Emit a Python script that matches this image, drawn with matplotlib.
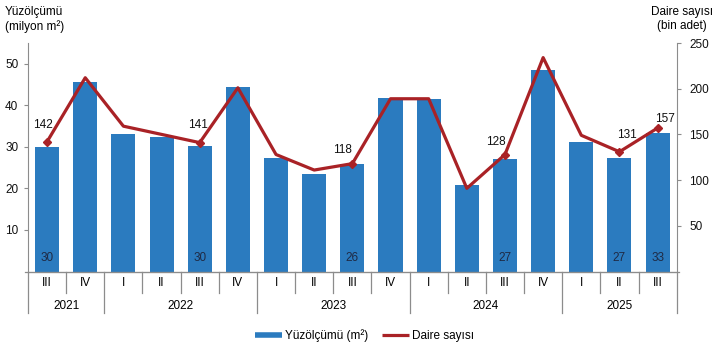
import matplotlib
matplotlib.use("Agg")
import matplotlib.pyplot as plt
import matplotlib.transforms as mtransforms
from matplotlib.lines import Line2D

plt.rcParams['font.family'] = ['Liberation Sans', 'DejaVu Sans']
plt.rcParams['font.size'] = 8.5

# veri
ceyrek = ['III', 'IV', 'I', 'II', 'III', 'IV', 'I', 'II', 'III', 'IV',
          'I', 'II', 'III', 'IV', 'I', 'II', 'III']
yillar = ['2021', '2022', '2023', '2024', '2025']
yil_uzunluk = [2, 4, 4, 4, 3]
yuzolcumu = [30.0, 45.5, 33.1, 32.3, 30.2, 44.5, 27.3, 23.5, 25.9, 41.7,
             41.5, 20.8, 27.1, 48.6, 31.2, 27.3, 33.3]
daire = [142, 212, 159, 150, 141, 201, 128, 111, 118, 189,
         189, 91, 128, 234, 149, 131, 157]
bar_etiket_idx = [0, 4, 8, 12, 15, 16]
cizgi_etiket_idx = [0, 4, 8, 12, 15, 16]
cizgi_ofset = {0: (-4, 17), 4: (-2, 18), 8: (-10, 14), 12: (-9, 13),
               15: (7, 17), 16: (7, 9)}

mavi = '#2B7BBF'
kirmizi = '#A92226'
gri = '#8C8C8C'

fig = plt.figure(figsize=(7.22, 3.52), dpi=100)
ax = fig.add_axes([28 / 722, 80.5 / 352, 648.7 / 722, 228.5 / 352])
ax2 = ax.twinx()

x = list(range(len(ceyrek)))
ax.bar(x, yuzolcumu, width=0.63, color=mavi, zorder=2)
ax.set_xlim(-0.5, 16.5)
ax.set_ylim(0, 55)
ax.set_yticks([10, 20, 30, 40, 50])
ax.set_xticks([])

for i in bar_etiket_idx:
    ax.text(i, 3.3, f"{round(yuzolcumu[i])}", ha='center', va='center',
            color='#1F2A44', fontsize=8.5, zorder=3)

ax2.plot(x, daire, color=kirmizi, lw=2.3, zorder=4)
ax2.plot([x[i] for i in cizgi_etiket_idx], [daire[i] for i in cizgi_etiket_idx],
         ls='none', marker='D', ms=4, color=kirmizi, zorder=5)
ax2.set_ylim(0, 250)
ax2.set_yticks([50, 100, 150, 200, 250])
for i in cizgi_etiket_idx:
    ax2.annotate(str(daire[i]), (x[i], daire[i]), xytext=cizgi_ofset[i],
                 textcoords='offset pixels', ha='center', va='center',
                 fontsize=8.5, color='#111111')

for a in (ax, ax2):
    a.spines['top'].set_visible(False)
    for s in ('left', 'right', 'bottom'):
        a.spines[s].set_color(gri)
    a.tick_params(axis='y', colors='#111111', length=3, color=gri, labelsize=8.5)
ax.spines['right'].set_visible(False)
ax2.spines['left'].set_visible(False)
ax2.spines['bottom'].set_visible(False)
ax.tick_params(axis='y', pad=4)
ax2.tick_params(axis='y', pad=6)

# iki seviyeli x ekseni
tr = mtransforms.blended_transform_factory(ax.transData, ax.transAxes)
ax.plot([-0.58, 16.55], [0, 0], color=gri, lw=0.9, transform=tr, clip_on=False)
for i, q in enumerate(ceyrek):
    ax.text(i, -0.052, q, ha='center', va='center', transform=tr, fontsize=8.5)
sinir = -0.5
for y, n in zip(yillar, yil_uzunluk):
    ax.plot([sinir, sinir], [0, -0.18], color=gri, lw=0.9, transform=tr, clip_on=False)
    for k in range(1, n):
        ax.plot([sinir + k, sinir + k], [0, -0.093], color=gri, lw=0.9,
                transform=tr, clip_on=False)
    ax.text(sinir + n / 2, -0.152, y, ha='center', va='center', transform=tr,
            fontsize=8.5)
    sinir += n
ax.plot([sinir, sinir], [0, -0.18], color=gri, lw=0.9, transform=tr, clip_on=False)

fig.text(5 / 722, 1 - 12 / 352, 'Yüzölçümü', ha='left', va='center', fontsize=8.5)
fig.text(5 / 722, 1 - 27 / 352, '(milyon m²)', ha='left', va='center', fontsize=8.5)
fig.text(682 / 722, 1 - 12 / 352, 'Daire sayısı', ha='center', va='center', fontsize=8.5)
fig.text(682 / 722, 1 - 26 / 352, '(bin adet)', ha='center', va='center', fontsize=8.5)

h = [Line2D([], [], color=mavi, lw=4, solid_capstyle='butt'),
     Line2D([], [], color=kirmizi, lw=2.3, solid_capstyle='butt')]
fig.legend(h, ['Yüzölçümü (m²)', 'Daire sayısı'], loc='center',
           bbox_to_anchor=(0.505, 1 - 336 / 352), ncol=2, frameon=False,
           handlelength=2.3, handletextpad=0.3, columnspacing=1.1, fontsize=8.5)

fig.savefig('out.png', dpi=100)
